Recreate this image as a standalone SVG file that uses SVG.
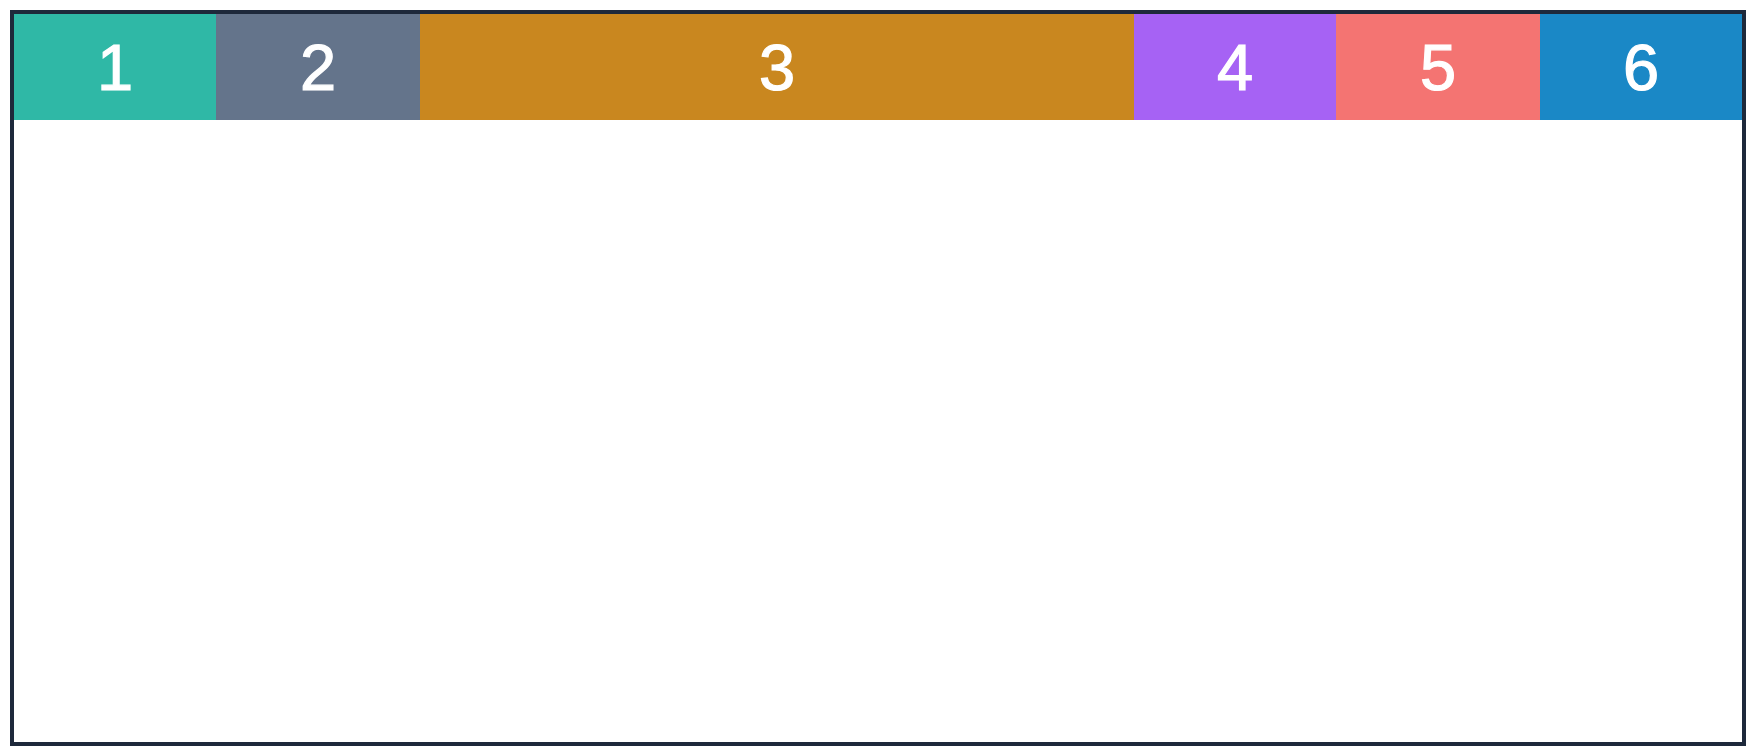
<svg xmlns="http://www.w3.org/2000/svg" width="1754" height="756" viewBox="0 0 1754 756">
<style>
.lbl{font-family:"Liberation Sans",Arial,sans-serif;font-size:65px;fill:#ffffff;stroke:#ffffff;stroke-width:1.2px;text-anchor:middle}
</style>
<rect x="0" y="0" width="1754" height="756" fill="#ffffff"/>
<g id="seg1"><rect x="14" y="14" width="202" height="106" fill="#2fb8a6"/><text class="lbl" x="115" y="90">1</text></g>
<g id="seg2"><rect x="216" y="14" width="204" height="106" fill="#64748b"/><text class="lbl" x="318" y="90">2</text></g>
<g id="seg3"><rect x="420" y="14" width="714" height="106" fill="#c9871f"/><text class="lbl" x="777" y="90">3</text></g>
<g id="seg4"><rect x="1134" y="14" width="202" height="106" fill="#a662f4"/><text class="lbl" x="1235" y="90">4</text></g>
<g id="seg5"><rect x="1336" y="14" width="204" height="106" fill="#f47472"/><text class="lbl" x="1438" y="90">5</text></g>
<g id="seg6"><rect x="1540" y="14" width="202" height="106" fill="#1a88c6"/><text class="lbl" x="1641" y="90">6</text></g>
<g id="connectors"></g>
<rect x="12" y="12" width="1732" height="732" fill="none" stroke="#1e293b" stroke-width="4"/>
</svg>
